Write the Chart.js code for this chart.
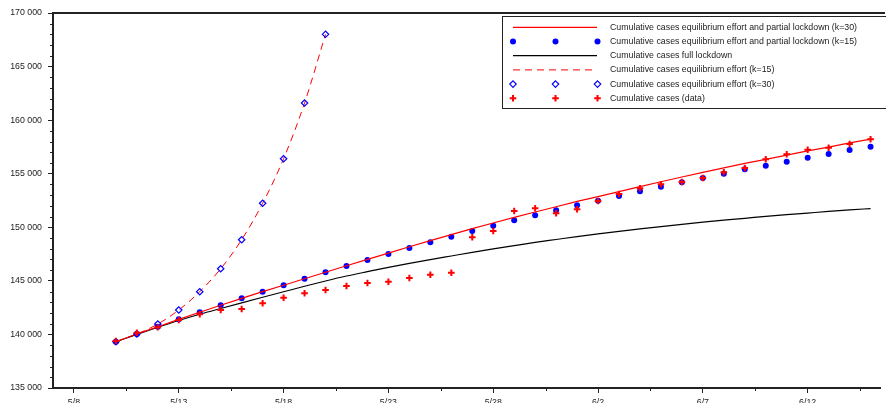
<!DOCTYPE html>
<html>
<head>
<meta charset="utf-8">
<script src="https://cdn.jsdelivr.net/npm/chart.js@4.4.1/dist/chart.umd.min.js"></script>
<style>
body{margin:0;background:#fff;}
#wrap{width:886px;height:403px;overflow:hidden;}
</style>
</head>
<body>
<div id="wrap"><canvas id="myChart" width="886" height="412"></canvas></div>
<script>
// days counted from 5/8 (day 0)
const days = [2,3,4,5,6,7,8,9,10,11,12,13,14,15,16,17,18,19,20,21,22,23,24,25,26,27,28,29,30,31,32,33,34,35,36,37,38];
const effortDays = [2,3,4,5,6,7,8,9,10,11,12];

const partial30 = [139320,140040,140720,141410,142070,142720,143370,143990,144590,145200,145800,146410,147000,147590,148180,148750,149310,149880,150400,150930,151430,151920,152420,152860,153330,153800,154250,154690,155120,155540,155970,156340,156740,157130,157490,157880,158220];
const partial15 = [139320,140040,140720,141410,142070,142720,143370,143990,144590,145200,145800,146390,146950,147510,148070,148600,149120,149650,150150,150650,151120,151590,152050,152480,152920,153360,153790,154200,154600,155000,155410,155750,156120,156490,156840,157210,157520];
const fullLockdown = [139320,140010,140670,141300,141880,142420,142950,143470,143980,144500,144990,145450,145860,146260,146630,146980,147320,147660,147980,148290,148590,148860,149130,149380,149620,149850,150070,150280,150480,150670,150840,151020,151180,151330,151480,151620,151750];
const effort15 = [139320,140040,140970,142280,143990,146130,148840,152240,156400,161600,168010];
const effort30 = [139320,140040,140970,142280,143990,146130,148840,152240,156400,161600,168010];
const casesData = [139390,140160,140670,141350,141880,142280,142370,142910,143430,143840,144150,144520,144800,144920,145270,145570,145760,149070,149650,151520,151770,151310,151680,152450,153110,153640,154010,154230,154600,155130,155530,156350,156810,157240,157430,157770,158210];

const tickDays = [0,5,10,15,20,25,30,35];
const tickLabels = ['5/8','5/13','5/18','5/23','5/28','6/2','6/7','6/12'];

const fontFam = '"Liberation Sans", Arial, sans-serif';
const ink = '#222';

function toPoints(xs, ys){
    return xs.map((d, i) => ({x: d, y: ys[i]}));
}

function spaced(v){
    return String(v).replace(/\B(?=(\d{3})+(?!\d))/g, ' ');
}

const frame = {
    id: 'frame',
    afterDraw: (chart) => {
        const c = chart.ctx;
        const a = chart.chartArea;
        const xs = chart.scales.x;
        const ys = chart.scales.y;
        c.save();
        c.strokeStyle = ink;
        c.lineWidth = 2;
        c.beginPath();
        c.moveTo(a.left, a.top);
        c.lineTo(a.right + 5, a.top);
        c.stroke();
        // minor ticks
        c.lineWidth = 1;
        c.beginPath();
        for (let v = 136000; v < 170000; v += 1000) {
            if (v % 5000 === 0) continue;
            const y = Math.round(ys.getPixelForValue(v)) + 0.5;
            c.moveTo(a.left - 3, y);
            c.lineTo(a.left, y);
        }
        for (let d = 2.5; d < 38.5; d += 5) {
            const x = Math.round(xs.getPixelForValue(d)) + 0.5;
            c.moveTo(x, a.bottom);
            c.lineTo(x, a.bottom + 3);
        }
        c.stroke();
        c.restore();
    }
};

const legendBox = {
    id: 'legendBox',
    afterDraw: (chart) => {
        const c = chart.ctx;
        c.save();
        c.fillStyle = '#fff';
        c.fillRect(502.5, 16.5, 420, 92);
        c.strokeStyle = ink;
        c.lineWidth = 1;
        c.strokeRect(502.5, 16.5, 420, 92);
        c.font = '8.8px ' + fontFam;
        c.textBaseline = 'middle';
        chart.data.datasets.forEach((ds, i) => {
            const y = 27.3 + i * 14.2;
            c.save();
            if (ds.showLine !== false) {
                c.strokeStyle = ds.borderColor;
                c.lineWidth = ds.borderWidth;
                c.setLineDash(ds.borderDash || []);
                c.beginPath();
                c.moveTo(513, y);
                c.lineTo(597, y);
                c.stroke();
            } else {
                [513, 555.5, 597.5].forEach(x => {
                    c.beginPath();
                    c.lineWidth = ds.borderWidth;
                    c.strokeStyle = ds.borderColor;
                    c.fillStyle = ds.backgroundColor;
                    const r = ds.pointRadius;
                    if (ds.pointStyle === 'circle') {
                        c.arc(x, y, r, 0, Math.PI * 2);
                        c.fill();
                    } else if (ds.pointStyle === 'rectRot') {
                        c.moveTo(x, y - r); c.lineTo(x + r, y); c.lineTo(x, y + r); c.lineTo(x - r, y); c.closePath();
                        c.stroke();
                    } else {
                        c.moveTo(x - r, y); c.lineTo(x + r, y);
                        c.moveTo(x, y - r); c.lineTo(x, y + r);
                        c.stroke();
                    }
                });
            }
            c.restore();
            c.fillStyle = ink;
            c.fillText(ds.label, 610, y);
        });
        c.restore();
    }
};

const ctx = document.getElementById('myChart');

const myChart = new Chart(ctx, {
    type: 'line',
    data: {
        datasets: [{
            label: 'Cumulative cases equilibrium effort and partial lockdown (k=30)',
            data: toPoints(days, partial30),
            borderColor: '#ff0000',
            borderWidth: 1.2,
            pointRadius: 0,
            order: 2
        },
        {
            label: 'Cumulative cases equilibrium effort and partial lockdown (k=15)',
            data: toPoints(days, partial15),
            showLine: false,
            pointStyle: 'circle',
            pointRadius: 3,
            borderWidth: 0,
            borderColor: '#0000ff',
            backgroundColor: '#0000ff',
            order: 3
        },
        {
            label: 'Cumulative cases full lockdown',
            data: toPoints(days, fullLockdown),
            borderColor: '#000000',
            borderWidth: 1.2,
            pointRadius: 0,
            cubicInterpolationMode: 'monotone',
            order: 4
        },
        {
            label: 'Cumulative cases equilibrium effort (k=15)',
            data: toPoints(effortDays, effort15),
            borderColor: '#ff0000',
            borderWidth: 1,
            borderDash: [7, 5],
            pointRadius: 0,
            cubicInterpolationMode: 'monotone',
            order: 5
        },
        {
            label: 'Cumulative cases equilibrium effort (k=30)',
            data: toPoints(effortDays, effort30),
            showLine: false,
            pointStyle: 'rectRot',
            pointRadius: 3.2,
            borderWidth: 1.2,
            borderColor: '#0000ff',
            backgroundColor: 'rgba(0,0,0,0)',
            order: 1
        },
        {
            label: 'Cumulative cases (data)',
            data: toPoints(days, casesData),
            showLine: false,
            pointStyle: 'cross',
            pointRadius: 3.3,
            borderWidth: 2,
            borderColor: '#ff0000',
            backgroundColor: '#ff0000',
            order: 0
        }]
    },
    options: {
        responsive: false,
        animation: false,
        events: [],
        layout: { padding: { top: 13, left: 0, right: 0, bottom: 0 } },
        plugins: {
            legend: { display: false },
            tooltip: { enabled: false }
        },
        scales: {
            x: {
                type: 'linear',
                min: -1,
                max: 38.45,
                afterBuildTicks: (s) => { s.ticks = tickDays.map(v => ({value: v})); },
                afterFit: (s) => { s.height = 24; },
                ticks: {
                    autoSkip: false,
                    maxRotation: 0,
                    padding: 4,
                    color: ink,
                    font: { family: fontFam, size: 8.8 },
                    callback: (v) => tickLabels[tickDays.indexOf(v)]
                },
                grid: { drawOnChartArea: false, tickLength: 5, color: ink },
                border: { color: ink, width: 2 }
            },
            y: {
                min: 135000,
                max: 170000,
                afterFit: (s) => { s.width = 53; },
                ticks: {
                    stepSize: 5000,
                    padding: 6,
                    color: ink,
                    font: { family: fontFam, size: 8.8 },
                    callback: (v) => spaced(v)
                },
                grid: { drawOnChartArea: false, tickLength: 5, color: ink },
                border: { color: ink, width: 2 }
            }
        }
    },
    plugins: [frame, legendBox]
});
</script>
</body>
</html>
